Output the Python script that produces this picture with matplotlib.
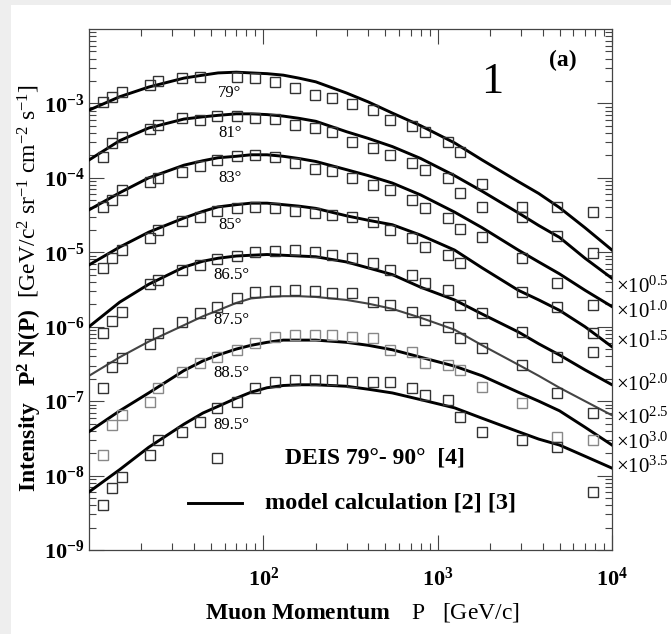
import numpy as np
import matplotlib
matplotlib.use('Agg')
import matplotlib.pyplot as plt
from matplotlib.ticker import LogLocator, FuncFormatter, NullFormatter, FixedLocator
from matplotlib.patches import Rectangle

plt.rcParams['font.family'] = ['Liberation Serif', 'DejaVu Serif']
plt.rcParams['mathtext.fontset'] = 'custom'
plt.rcParams['mathtext.rm'] = 'Liberation Serif'
plt.rcParams['mathtext.bf'] = 'Liberation Serif:bold'
plt.rcParams['mathtext.it'] = 'Liberation Serif:italic'

# ---------------- data ----------------
angles = ['79°', '81°', '83°', '85°', '86.5°', '87.5°', '88.5°', '89.5°']
scale_exponents = ['', '0.5', '1.0', '1.5', '2.0', '2.5', '3.0', '3.5']

# momentum bins of DEIS data points [GeV/c]
p_data = [12, 13.5, 15.5, 22.4, 24.9, 34.2, 43.4, 54.2, 70.6, 89.6, 117, 152, 198,
          248, 323, 426, 533, 713, 847, 1150, 1350, 1800, 3050, 4840, 7800]
nan = float('nan')
# log10 of plotted intensity (incl. display scaling)
log_data_79 = [-2.98, -2.91, -2.85, -2.75, -2.70, -2.66, -2.65, nan, -2.65, -2.66, -2.71, -2.79, -2.89,
               -2.93, -3.01, -3.09, -3.22, -3.30, -3.38, -3.52, -3.65, -4.08, -4.39, -4.39, -4.46]
log_data_81 = [-3.72, -3.53, -3.45, -3.34, -3.29, -3.20, -3.22, -3.17, -3.17, -3.20, -3.21, -3.29, -3.33,
               -3.38, -3.52, -3.60, -3.69, -3.80, -3.89, -4.00, -4.20, -4.39, -4.53, -4.78, -5.01]
log_data_83 = [-4.39, -4.30, -4.16, -4.06, -4.00, -3.92, -3.84, -3.76, -3.71, -3.69, -3.72, -3.80, -3.88,
               -3.91, -4.00, -4.10, -4.16, -4.30, -4.41, -4.54, -4.69, -4.79, -5.08, -5.41, -5.71]
log_data_85 = [-5.21, -5.08, -4.97, -4.81, -4.70, -4.58, -4.53, -4.45, -4.41, -4.39, -4.41, -4.45, -4.47,
               -4.50, -4.53, -4.59, -4.70, -4.81, -4.93, -5.04, -5.14, nan, -5.53, -5.74, -6.08]
log_data_865 = [-6.08, -5.92, -5.80, -5.43, -5.37, -5.24, -5.17, -5.09, -5.05, -5.00, -4.98, -4.97, -5.00,
                -5.04, -5.08, -5.14, -5.24, -5.31, -5.41, -5.51, -5.71, -5.82, -6.07, -6.41, -6.34]
log_data_875 = [-6.82, -6.54, -6.42, -6.23, -6.08, -5.94, -5.82, -5.74, -5.61, -5.53, -5.52, -5.51, -5.52,
                -5.55, -5.55, -5.67, -5.71, -5.80, -5.91, -6.00, -6.15, -6.29, -6.51, -6.89, -7.16]
log_data_885 = [-7.72, -7.32, -7.19, -7.01, -6.82, -6.61, -6.49, -6.41, -6.31, -6.22, -6.14, -6.11, -6.11,
                -6.11, -6.14, -6.15, -6.31, -6.34, -6.49, -6.51, -6.58, -6.81, -7.02, -7.48, -7.52]
log_data_895 = [-8.40, -8.17, -8.02, -7.72, -7.52, -7.41, -7.28, -7.09, -7.01, -6.82, -6.74, -6.72, -6.72,
                -6.72, -6.74, -6.74, -6.74, -6.82, -6.92, -6.98, -7.21, -7.41, -7.52, -7.62, -8.22]

# model calculation curves
p_model = [10, 15, 22, 35, 45, 55, 70, 85, 105, 130, 160, 200, 300, 400, 550, 800,
           1250, 1800, 2900, 3800, 5000, 7000, 10000]
log_model_79 = [-3.09, -2.91, -2.78, -2.66, -2.62, -2.59, -2.58, -2.59, -2.60, -2.62, -2.66, -2.71,
                -2.86, -2.98, -3.13, -3.30, -3.53, -3.76, -4.05, -4.21, -4.40, -4.67, -4.97]
log_model_81 = [-3.76, -3.50, -3.33, -3.21, -3.18, -3.16, -3.14, -3.14, -3.15, -3.17, -3.20, -3.24,
                -3.38, -3.47, -3.58, -3.74, -3.97, -4.18, -4.47, -4.64, -4.80, -5.08, -5.35]
log_model_83 = [-4.43, -4.20, -4.00, -3.83, -3.77, -3.73, -3.71, -3.69, -3.69, -3.71, -3.74, -3.78,
                -3.89, -3.97, -4.07, -4.23, -4.46, -4.67, -4.97, -5.13, -5.29, -5.51, -5.73]
log_model_85 = [-5.17, -4.93, -4.73, -4.54, -4.45, -4.39, -4.36, -4.34, -4.34, -4.36, -4.38, -4.41,
                -4.51, -4.57, -4.63, -4.77, -4.97, -5.21, -5.51, -5.64, -5.78, -6.00, -6.27]
log_model_865 = [-6.00, -5.67, -5.43, -5.20, -5.12, -5.08, -5.05, -5.04, -5.03, -5.04, -5.05, -5.06,
                 -5.13, -5.21, -5.30, -5.47, -5.64, -5.83, -6.07, -6.23, -6.38, -6.58, -6.78]
log_model_875 = [-6.66, -6.41, -6.20, -5.98, -5.86, -5.78, -5.68, -5.62, -5.60, -5.59, -5.59, -5.60,
                 -5.64, -5.69, -5.76, -5.88, -6.04, -6.25, -6.51, -6.66, -6.82, -7.00, -7.19]
log_model_885 = [-7.41, -7.13, -6.89, -6.59, -6.46, -6.38, -6.30, -6.25, -6.21, -6.18, -6.18, -6.18,
                 -6.21, -6.25, -6.31, -6.41, -6.53, -6.66, -6.88, -7.00, -7.13, -7.35, -7.59]
log_model_895 = [-8.22, -7.92, -7.62, -7.31, -7.16, -7.07, -6.96, -6.88, -6.82, -6.79, -6.78, -6.78,
                 -6.80, -6.84, -6.89, -6.98, -7.09, -7.23, -7.41, -7.51, -7.59, -7.74, -7.90]

data_sets = [log_data_79, log_data_81, log_data_83, log_data_85,
             log_data_865, log_data_875, log_data_885, log_data_895]
model_sets = [log_model_79, log_model_81, log_model_83, log_model_85,
              log_model_865, log_model_875, log_model_885, log_model_895]

# ---------------- figure ----------------
W, H = 671, 634
fig = plt.figure(figsize=(W / 100, H / 100), dpi=100)
fig.patch.set_facecolor('white')
fig.patches.append(Rectangle((0, 0), 11 / W, 1, transform=fig.transFigure,
                             facecolor='#eeeeee', edgecolor='none', zorder=-10))
fig.patches.append(Rectangle((0, 1 - 5 / H), 1, 5 / H, transform=fig.transFigure,
                             facecolor='#eeeeee', edgecolor='none', zorder=-10))

L, R, T, B = 89, 612, 29, 550
ax = fig.add_axes([L / W, 1 - B / H, (R - L) / W, (B - T) / H])
ax.set_xscale('log')
ax.set_yscale('log')
ax.set_xlim(10, 1e4)
ax.set_ylim(1e-9, 1e-2)

line_colors = ['k', 'k', 'k', 'k', 'k', '#444444', 'k', 'k']
line_widths = [2.1, 2.1, 2.1, 2.1, 2.1, 1.5, 2.1, 2.1]
marker_colors = ['#333333'] * 6 + ['#888888', '#333333']
for i in range(8):
    ax.plot(p_model, 10 ** np.array(model_sets[i]), '-', color=line_colors[i],
            lw=line_widths[i], zorder=3, solid_joinstyle='round')
    ax.plot(p_data, 10 ** np.array(data_sets[i]), 's', mfc='none',
            mec=marker_colors[i], ms=7.2, mew=1.0, zorder=4)

# ticks
ax.xaxis.set_major_locator(FixedLocator([1e2, 1e3, 1e4]))
ax.xaxis.set_minor_locator(LogLocator(base=10, subs=np.arange(2, 10), numticks=20))
ax.yaxis.set_major_locator(FixedLocator([10.0 ** k for k in range(-9, -2)]))
ax.yaxis.set_minor_locator(LogLocator(base=10, subs=np.arange(2, 10), numticks=20))
ax.xaxis.set_minor_formatter(NullFormatter())
ax.yaxis.set_minor_formatter(NullFormatter())
fmt = FuncFormatter(lambda v, pos: r'$\mathbf{10^{%d}}$' % int(round(np.log10(v))))
ax.xaxis.set_major_formatter(fmt)
ax.yaxis.set_major_formatter(fmt)
ax.tick_params(which='both', direction='in', top=True, right=True, colors='#444444',
               labelcolor='black', width=0.8)
ax.tick_params(which='major', length=11, labelsize=16)
ax.tick_params(which='minor', length=5)
ax.tick_params(axis='x', which='major', pad=13)
ax.tick_params(axis='y', which='major', pad=3)
for s in ax.spines.values():
    s.set_color('#444444')
    s.set_linewidth(0.9)

# axis labels
fig.text(30 / W, 1 - 288 / H,
         r'$\mathbf{Intensity}\ \ \ \mathbf{P^2\ N(P)}\ \ \mathrm{[GeV/c^2\ sr^{-1}\ cm^{-2}\ s^{-1}]}$',
         rotation=90, ha='center', va='center', fontsize=17)
fig.text(362 / W, 1 - 613 / H,
         r'$\mathbf{Muon\ Momentum}\ \ \ \ \mathrm{P}\ \ \ \mathrm{[GeV/c]}$',
         ha='center', va='center', fontsize=17)

# angle annotations
angle_x = [0.247, 0.247, 0.247, 0.247, 0.237, 0.237, 0.237, 0.237]
angle_y = [0.877, 0.800, 0.714, 0.624, 0.528, 0.441, 0.340, 0.240]
for i in range(8):
    ax.text(angle_x[i], angle_y[i], angles[i], transform=ax.transAxes,
            ha='left', va='center', fontsize=12)

# scale factor labels at right
scale_y = [None, 0.505, 0.457, 0.399, 0.317, 0.253, 0.205, 0.159]
for i in range(1, 8):
    ax.text(1.0075, scale_y[i], r'$\times10^{%s}$' % scale_exponents[i],
            transform=ax.transAxes, ha='left', va='center', fontsize=15, clip_on=False)

# panel labels
ax.text(0.771, 0.898, '1', transform=ax.transAxes, ha='center', va='center', fontsize=32)
ax.text(0.906, 0.940, '(a)', transform=ax.transAxes, ha='center', va='center',
        fontsize=17, fontweight='bold')

# legend (drawn manually)
ax.plot([0.245], [0.177], 's', mfc='none', mec='#333333', ms=7.2, mew=1.0,
        transform=ax.transAxes)
ax.text(0.375, 0.177, 'DEIS 79°- 90°  [4]', transform=ax.transAxes, ha='left',
        va='center', fontsize=17, fontweight='bold')
ax.plot([0.189, 0.293], [0.090, 0.090], '-', color='k', lw=2.1, transform=ax.transAxes)
ax.text(0.337, 0.090, 'model calculation [2] [3]', transform=ax.transAxes, ha='left',
        va='center', fontsize=17.5, fontweight='bold')

fig.savefig('out.png', dpi=100)
